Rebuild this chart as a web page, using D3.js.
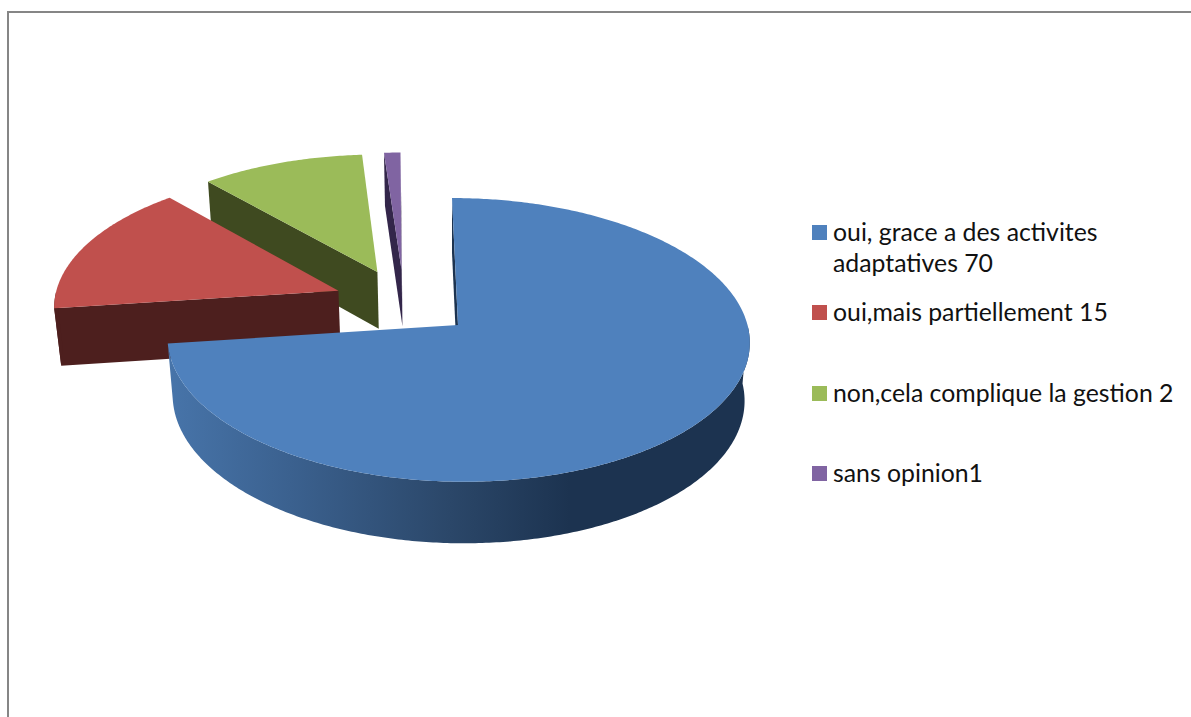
<!DOCTYPE html>
<html>
<head>
<meta charset="utf-8">
<script src="https://cdnjs.cloudflare.com/ajax/libs/d3/7.8.5/d3.min.js"></script>
<style>
html, body { margin: 0; padding: 0; background: #fff; }
svg { display: block; }
</style>
</head>
<body>
<svg id="chart" width="1191" height="717"></svg>
<script>
var categories = ["oui, grace a des activites|adaptatives 70", "oui,mais partiellement 15", "non,cela complique la gestion 2", "sans opinion1"];
var values = [70, 15, 10, 1];
var topColors = ["#4f81bd", "#c0504d", "#9bbb59", "#8064a2"];
var sideColors = ["#1c3350", "#4d1f1e", "#3f4a20", "#33264a"];
var legendY = [225, 305, 386, 466];

var svg = d3.select("#chart");

// frame, only left and top edges are in the picture
svg.append("path").attr("d", "M8,717V12H1191").attr("fill", "none").attr("stroke", "#868686").attr("stroke-width", 2);

// perspective numbers fitted on the blue slice
var cx = 458, cy = 325, a = 289.5, b = 140.3, k = 0.105, m = 0.018, depth = 59, shear = 6;
var explode = 0.248;

function project(x, y, d) {
  var w = 1 + k * y + m * d;
  return [cx + a * x / w - shear * y, cy + (-b * y + depth * d) / w];
}

var arcs = d3.pie().sort(null).startAngle(0).endAngle(2 * Math.PI)(values);
var line = d3.line();
function mid(s) { return (s.startAngle + s.endAngle) / 2; }

var defs = svg.append("defs");
var grad = defs.append("linearGradient").attr("id", "blueSide")
  .attr("gradientUnits", "userSpaceOnUse").attr("x1", 170).attr("x2", 570).attr("y1", 0).attr("y2", 0);
grad.append("stop").attr("offset", "0%").attr("stop-color", "#4774a9");
grad.append("stop").attr("offset", "30%").attr("stop-color", "#3b618f");
grad.append("stop").attr("offset", "70%").attr("stop-color", "#2b4769");
grad.append("stop").attr("offset", "100%").attr("stop-color", "#1c3350");

// far slices first, blue last
d3.range(arcs.length - 1, -1, -1).forEach(function(i) {
  var s = arcs[i];
  var ox = explode * (Math.sin(mid(s)) - Math.sin(mid(arcs[0])));
  var oy = explode * (Math.cos(mid(s)) - Math.cos(mid(arcs[0])));
  function rim(t, d) { return project(ox + Math.sin(t), oy + Math.cos(t), d); }
  var apexTop = project(ox, oy, 0), apexBot = project(ox, oy, 1);

  // flat cut faces, d3.polygonArea has the sign flipped in screen coords
  [s.startAngle, s.endAngle].forEach(function(t, j) {
    var quad = [apexTop, rim(t, 0), rim(t, 1), apexBot];
    var area = d3.polygonArea(quad);
    if ((j == 0 && area > 0) || (j == 1 && area < 0)) {
      svg.append("path").attr("d", line(quad) + "Z").attr("fill", sideColors[i]);
    }
  });

  var steps = d3.range(0, 1.0001, 1 / Math.max(4, Math.ceil((s.endAngle - s.startAngle) * 90)))
    .map(function(f) { return s.startAngle + f * (s.endAngle - s.startAngle); });

  // outer wall, only what looks to the front
  var front = steps.filter(function(t) { return Math.cos(t) < 0; });
  if (front.length > 1) {
    var wall = front.map(function(t) { return rim(t, 0); })
      .concat(front.slice().reverse().map(function(t) { return rim(t, 1); }));
    svg.append("path").attr("d", line(wall) + "Z")
      .attr("fill", i == 0 ? "url(#blueSide)" : sideColors[i]);
  }

  var topFace = [apexTop].concat(steps.map(function(t) { return rim(t, 0); }));
  svg.append("path").attr("d", line(topFace) + "Z").attr("fill", topColors[i]);
});

// legend
var legend = svg.selectAll("g.item").data(categories).enter().append("g").attr("class", "item")
  .attr("transform", function(d, i) { return "translate(812," + legendY[i] + ")"; });
legend.append("rect").attr("width", 15).attr("height", 15)
  .attr("fill", function(d, i) { return topColors[i]; });
legend.each(function(d) {
  var g = d3.select(this);
  d.split("|").forEach(function(t, j) {
    g.append("text").attr("x", 21).attr("y", 15.5 + j * 31).text(t)
      .attr("font-family", "Lato, 'Open Sans', sans-serif").attr("font-size", 24.8).attr("fill", "#111");
  });
});
</script>
</body>
</html>
